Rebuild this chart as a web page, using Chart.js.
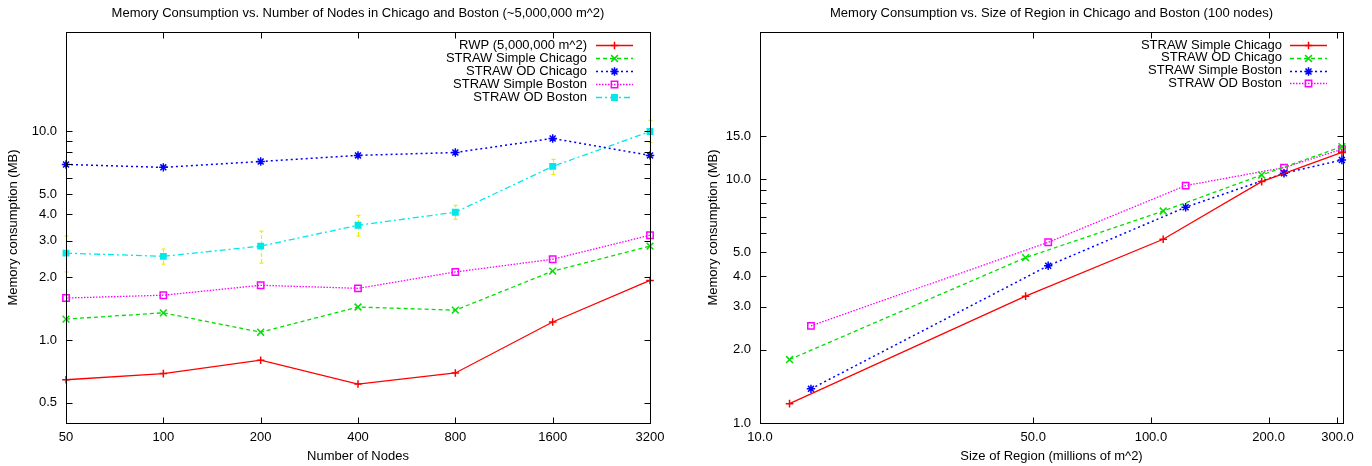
<!DOCTYPE html>
<html><head><meta charset="utf-8">
<script src="https://cdn.jsdelivr.net/npm/chart.js@4/dist/chart.umd.min.js"></script>
<style>
html,body{margin:0;padding:0;background:#fff;}
#wrap{position:relative;width:1372px;height:466px;overflow:hidden;background:#fff;}
canvas{position:absolute;top:0;}
#c1{left:0;} #c2{left:686px;}
</style></head><body>
<div id="wrap"><canvas id="c1" width="686" height="466"></canvas><canvas id="c2" width="686" height="466"></canvas></div>
<script>
// ---------- data: left chart (memory vs number of nodes) ----------
const nodeCounts = [50, 100, 200, 400, 800, 1600, 3200];
const rwpNodes = [0.645, 0.69, 0.80, 0.615, 0.695, 1.22, 1.93];
const simpleChicagoNodes = [1.26, 1.35, 1.09, 1.44, 1.39, 2.14, 2.82];
const odChicagoNodes = [6.95, 6.73, 7.18, 7.68, 7.93, 9.26, 7.68];
const simpleBostonNodes = [1.59, 1.64, 1.83, 1.77, 2.12, 2.44, 3.18];
const odBostonNodes = [2.61, 2.52, 2.82, 3.55, 4.10, 6.80, 10.0];
const odBostonErrLow = [2.12, 2.31, 2.34, 3.15, 3.79, 6.23, 8.85];
const odBostonErrHigh = [3.15, 2.73, 3.33, 3.96, 4.42, 7.35, 11.3];
const leftYTicks = [0.5, 1, 2, 3, 4, 5, 6, 7, 8, 9, 10];
const leftYLabels = [0.5, 1, 2, 3, 4, 5, 10];

// ---------- data: right chart (memory vs size of region) ----------
const regionChicago = [11.9, 47.8, 107.5, 192, 308];
const regionBoston = [13.5, 54.6, 122.7, 219, 308];
const simpleChicagoRegion = [1.20, 3.31, 5.66, 9.75, 12.86];
const odChicagoRegion = [1.82, 4.76, 7.39, 10.38, 13.56];
const simpleBostonRegion = [1.38, 4.41, 7.66, 10.55, 11.96];
const odBostonRegion = [2.50, 5.50, 9.39, 11.13, 13.23];
const rightXTicks = [10, 50, 100, 200, 300];
const rightYTicks = [1, 2, 3, 4, 5, 6, 7, 8, 9, 10, 15];
const rightYLabels = [1, 2, 3, 4, 5, 10, 15];

const FONT = "'Liberation Sans', Arial, Helvetica, sans-serif";
Chart.defaults.font.family = FONT;
Chart.defaults.font.size = 13;
Chart.defaults.color = '#000';

const ST = {
  red:     {color:'#ff0000', dash:[], width:1.3, point:'cross', radius:3.8, fill:'#ff0000'},
  green:   {color:'#00e000', dash:[4,3], width:1.3, point:'crossRot', radius:4.8, fill:'#00e000'},
  blue:    {color:'#0000ff', dash:[2,3], width:1.5, point:'star', radius:4.2, fill:'#0000ff'},
  magenta: {color:'#ff00ff', dash:[1.5,1.5], width:1.3, point:'rect', radius:4.5, fill:'rgba(0,0,0,0)'},
  cyan:    {color:'#00e8e8', dash:[6,3,2,3], width:1.3, point:'rect', radius:3.8, fill:'#00e8e8'}
};

function series(label, xs, ys, st) {
  return {
    label,
    data: xs.map((x, i) => ({x: x, y: ys[i]})),
    borderColor: st.color, backgroundColor: st.fill,
    borderWidth: st.width, borderDash: st.dash,
    pointStyle: st.point, pointRadius: st.radius,
    pointBorderColor: st.color, pointBackgroundColor: st.fill,
    pointBorderWidth: 1.5, tension: 0, fill: false, clip: false
  };
}

function drawMarker(ctx, ds, x, y) {
  ctx.save();
  ctx.setLineDash([]);
  ctx.strokeStyle = ds.pointBorderColor;
  ctx.fillStyle = ds.pointBackgroundColor;
  ctx.lineWidth = ds.pointBorderWidth;
  const r = ds.pointRadius;
  ctx.beginPath();
  const s = ds.pointStyle;
  if (s === 'cross' || s === 'star') {
    ctx.moveTo(x, y - r); ctx.lineTo(x, y + r);
    ctx.moveTo(x - r, y); ctx.lineTo(x + r, y);
  }
  if (s === 'crossRot' || s === 'star') {
    const o = Math.cos(Math.PI / 4) * r;
    ctx.moveTo(x - o, y - o); ctx.lineTo(x + o, y + o);
    ctx.moveTo(x - o, y + o); ctx.lineTo(x + o, y - o);
  }
  if (s === 'rect') {
    const h = r / Math.SQRT2;
    ctx.rect(x - h, y - h, 2 * h, 2 * h);
    ctx.fill();
  }
  ctx.stroke();
  ctx.restore();
}

const gnuplotDecor = {
  id: 'gnuplotDecor',
  afterDraw(chart, args, opts) {
    const ctx = chart.ctx;
    const a = chart.chartArea;
    ctx.save();
    ctx.strokeStyle = '#000';
    ctx.lineWidth = 1;
    ctx.setLineDash([]);
    const L = Math.round(a.left) + 0.5, R = Math.round(a.right) + 0.5;
    const T = Math.round(a.top) + 0.5, B = Math.round(a.bottom) + 0.5;
    ctx.strokeRect(L, T, R - L, B - T);
    const tl = 6;
    ctx.beginPath();
    const xs = chart.scales.x, ys = chart.scales.y;
    xs.ticks.forEach(t => {
      const p = Math.round(xs.getPixelForValue(t.value)) + 0.5;
      if (p <= L + 1 || p >= R - 1) return;
      ctx.moveTo(p, B); ctx.lineTo(p, B - tl);
      ctx.moveTo(p, T); ctx.lineTo(p, T + tl);
    });
    ys.ticks.forEach(t => {
      const p = Math.round(ys.getPixelForValue(t.value)) + 0.5;
      if (p <= T + 1 || p >= B - 1) return;
      ctx.moveTo(L, p); ctx.lineTo(L + tl, p);
      ctx.moveTo(R, p); ctx.lineTo(R - tl, p);
    });
    ctx.stroke();
    ctx.fillStyle = '#000';
    ctx.font = '13px ' + FONT;
    ctx.textAlign = 'center';
    ctx.textBaseline = 'middle';
    ctx.fillText(opts.title, (a.left + a.right) / 2, opts.titleY);
    ctx.textAlign = 'right';
    chart.data.datasets.forEach((ds, i) => {
      const y = opts.legendTop + i * opts.legendStep;
      ctx.fillStyle = '#000';
      ctx.fillText(ds.label, opts.textRight, y);
      ctx.save();
      ctx.strokeStyle = ds.borderColor;
      ctx.lineWidth = ds.borderWidth;
      ctx.setLineDash(ds.borderDash);
      ctx.beginPath();
      ctx.moveTo(opts.lineX1, Math.round(y) + 0.5);
      ctx.lineTo(opts.lineX2, Math.round(y) + 0.5);
      ctx.stroke();
      ctx.restore();
      drawMarker(ctx, ds, (opts.lineX1 + opts.lineX2) / 2, Math.round(y) + 0.5);
    });
    ctx.restore();
  }
};

const errorBars = {
  id: 'errorBars',
  beforeDatasetsDraw(chart, args, opts) {
    if (!opts.xs) return;
    const ctx = chart.ctx;
    const xs = chart.scales.x, ys = chart.scales.y;
    ctx.save();
    ctx.strokeStyle = '#eeee00';
    ctx.lineWidth = 1.2;
    opts.xs.forEach((xv, i) => {
      const x = Math.round(xs.getPixelForValue(xv)) + 0.5;
      const y1 = ys.getPixelForValue(opts.lo[i]);
      const y2 = ys.getPixelForValue(opts.hi[i]);
      ctx.setLineDash([4, 2]);
      ctx.beginPath();
      ctx.moveTo(x, y1); ctx.lineTo(x, y2);
      ctx.stroke();
      ctx.setLineDash([]);
      ctx.beginPath();
      ctx.moveTo(x - 2, y1); ctx.lineTo(x + 2, y1);
      ctx.moveTo(x - 2, y2); ctx.lineTo(x + 2, y2);
      ctx.stroke();
    });
    ctx.restore();
  }
};

function logAxis(opts) {
  return {
    type: 'logarithmic', min: opts.min, max: opts.max,
    grid: {display: false, drawTicks: false, tickLength: 0}, border: {display: false},
    afterBuildTicks: s => { s.ticks = opts.ticks.map(v => ({value: v})); },
    afterFit: opts.fit,
    ticks: {autoSkip: false, maxRotation: 0, minRotation: 0, padding: opts.pad, color: '#000',
            font: {size: 13, family: FONT}, callback: opts.label},
    title: {display: true, text: opts.title, color: '#000', font: {size: 13, family: FONT}, padding: opts.titlePad}
  };
}

new Chart(document.getElementById('c1'), {
  type: 'line',
  data: {datasets: [
    series('RWP (5,000,000 m^2)', nodeCounts, rwpNodes, ST.red),
    series('STRAW Simple Chicago', nodeCounts, simpleChicagoNodes, ST.green),
    series('STRAW OD Chicago', nodeCounts, odChicagoNodes, ST.blue),
    series('STRAW Simple Boston', nodeCounts, simpleBostonNodes, ST.magenta),
    series('STRAW OD Boston', nodeCounts, odBostonNodes, ST.cyan)
  ]},
  options: {
    responsive: false, animation: false, devicePixelRatio: 1,
    layout: {padding: {top: 32, right: 36, left: 0, bottom: 0}},
    plugins: {
      legend: {display: false}, tooltip: {enabled: false},
      gnuplotDecor: {title: 'Memory Consumption vs. Number of Nodes in Chicago and Boston (~5,000,000 m^2)', titleY: 13,
        legendTop: 45, legendStep: 13, textRight: 587, lineX1: 596, lineX2: 633},
      errorBars: {xs: nodeCounts, lo: odBostonErrLow, hi: odBostonErrHigh}
    },
    scales: {
      x: logAxis({min: 50, max: 3200, ticks: nodeCounts, pad: 7, title: 'Number of Nodes',
        titlePad: {top: 0, bottom: 2}, fit: s => { s.height = 43; }, label: v => String(v)}),
      y: logAxis({min: 0.4, max: 30, ticks: leftYTicks, pad: 9, title: 'Memory consumption (MB)',
        titlePad: {top: 6, bottom: 0}, fit: s => { s.width = 66; },
        label: v => leftYLabels.includes(v) ? v.toFixed(1) : ''})
    }
  },
  plugins: [errorBars, gnuplotDecor]
});

new Chart(document.getElementById('c2'), {
  type: 'line',
  data: {datasets: [
    series('STRAW Simple Chicago', regionChicago, simpleChicagoRegion, ST.red),
    series('STRAW OD Chicago', regionChicago, odChicagoRegion, ST.green),
    series('STRAW Simple Boston', regionBoston, simpleBostonRegion, ST.blue),
    series('STRAW OD Boston', regionBoston, odBostonRegion, ST.magenta)
  ]},
  options: {
    responsive: false, animation: false, devicePixelRatio: 1,
    layout: {padding: {top: 32, right: 29, left: 0, bottom: 0}},
    plugins: {
      legend: {display: false}, tooltip: {enabled: false},
      gnuplotDecor: {title: 'Memory Consumption vs. Size of Region in Chicago and Boston (100 nodes)', titleY: 13,
        legendTop: 45, legendStep: 12.8, textRight: 596, lineX1: 604, lineX2: 641},
      errorBars: {}
    },
    scales: {
      x: logAxis({min: 10, max: 310, ticks: rightXTicks, pad: 7, title: 'Size of Region (millions of m^2)',
        titlePad: {top: 0, bottom: 2}, fit: s => { s.height = 43; }, label: v => v.toFixed(1)}),
      y: logAxis({min: 1, max: 40, ticks: rightYTicks, pad: 9, title: 'Memory consumption (MB)',
        titlePad: {top: 19.5, bottom: 0}, fit: s => { s.width = 74; },
        label: v => rightYLabels.includes(v) ? v.toFixed(1) : ''})
    }
  },
  plugins: [errorBars, gnuplotDecor]
});
</script>
</body></html>
